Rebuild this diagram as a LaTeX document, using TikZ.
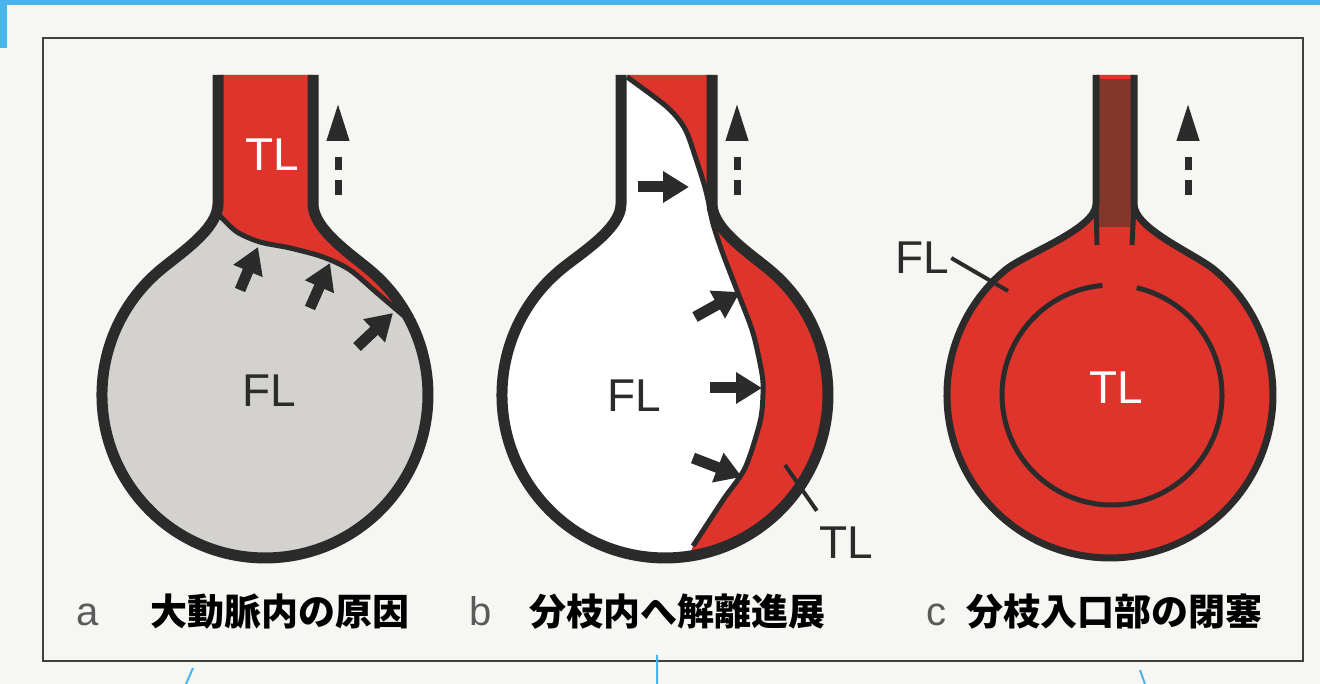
\documentclass[tikz,border=0pt]{standalone}
\usepackage{fontspec}
\setmainfont{Liberation Sans}
\newfontfamily\jpfont{Noto Sans CJK JP}
\usetikzlibrary{arrows.meta}
\definecolor{wall}{HTML}{2B2B2B}
\definecolor{blood}{HTML}{DE342C}
\definecolor{clot}{HTML}{82372A}
\definecolor{flgray}{HTML}{D4D2CF}
\definecolor{paper}{HTML}{F6F6F3}
\definecolor{letter}{HTML}{5A5A5A}
\definecolor{tab}{HTML}{4AB4EC}
% branch on top of the aorta: circle centre x, left and right stem wall x
\def\flask#1#2#3{(#2,609) -- (#2,480) .. controls (#2,455) and (#1-85.6,430) .. (#1-104.8,413.9) arc[start angle=130,end angle=410,radius=163] .. controls (#1+85.6,430) and (#3,455) .. (#3,480) -- (#3,609)}
\def\flow#1{\draw[flow] (#1,489) -- (#1,581);}

\begin{document}
\begin{tikzpicture}[x=0.5pt,y=0.5pt,
  lumen/.style={font=\fontsize{23}{23}\selectfont,inner sep=1pt},
  push/.style={line width=5.5pt,draw=wall,-{Triangle[width=15pt,length=13pt]}},
  flow/.style={line width=3.5pt,draw=wall,dash pattern=on 7.5pt off 5pt on 6.5pt off 30pt,-{Triangle[width=10.5pt,length=19pt]}},
  vessel/.style={line width=5.5pt,draw=wall,line join=round},
  flap/.style={line width=2.5pt,draw=wall},
  leader/.style={line width=2pt,draw=wall},
  letter/.style={font=\fontsize{20}{20}\selectfont,text=letter,anchor=base,inner sep=0pt},
  caption/.style={font=\fontsize{18.5}{20}\selectfont\jpfont\bfseries,anchor=base west,inner sep=0pt}]
\useasboundingbox (0,0) rectangle (1320,684);
\fill[paper] (0,0) rectangle (1320,684);

% a
\fill[flgray] \flask{265}{218}{313} -- cycle;
\begin{scope}
  \clip \flask{265}{218}{313} -- cycle;
  \fill[blood] plot[smooth] coordinates {(214,474) (223,464) (237,452) (260,442) (290,436) (323,427) (350,414) (377,391) (403,369) (414,358)} -- (460,358) -- (460,620) -- (214,620) -- cycle;
\end{scope}
\draw[flap] plot[smooth] coordinates {(220,468) (237,452) (260,442) (290,436) (323,427) (350,414) (377,391) (404,368)};
\draw[vessel] \flask{265}{218}{313};
\draw[push] (240,394) -- (258,437);
\draw[push] (310,376) -- (330,421);
\draw[push] (357,337) -- (393,371);
\flow{338}
\node[lumen,text=white] (tl-a) at (272,529) {TL};
\node[lumen,text=wall] (fl-a) at (269,293) {FL};

% b
\fill[white] \flask{665}{621}{712} -- cycle;
\begin{scope}
  \clip \flask{665}{621}{712} -- cycle;
  \fill[blood] plot[smooth] coordinates {(627,607) (667,577) (685,555) (696,525) (704,500) (709,480) (713,460) (723,430) (738,391) (753,351) (762,310) (763,290) (760,262) (745,216) (723,184) (693,138)} -- (680,100) -- (900,100) -- (900,620) -- (627,620) -- cycle;
\end{scope}
\draw[flap] plot[smooth] coordinates {(627,607) (667,577) (685,555) (696,525) (704,500) (709,480) (713,460) (723,430) (738,391) (753,351) (762,310) (763,290) (760,262) (745,216) (723,184) (693,138)};
\draw[vessel] \flask{665}{621}{712};
\draw[push] (638,497) -- (689,497);
\draw[push] (695,367) -- (740,392);
\draw[push] (710,296) -- (762,296);
\draw[push] (693,226) -- (742,207);
\flow{737}
\node[lumen,text=wall] (fl-b) at (634,288) {FL};
\node[lumen,text=wall] (tl-b) at (846,141) {TL};
\coordinate (tl-b-wall) at (785,219);
\draw[leader] (tl-b-wall) -- ([yshift=7pt]tl-b.north west);

% c
\fill[blood] \flask{1110}{1096}{1134} -- cycle;
\fill[clot] (1096,457) rectangle (1134,609);
\fill[blood] (1096,605) rectangle (1134,609);
\draw[vessel,line width=3.5pt] \flask{1110}{1096}{1134};
\draw[vessel,line width=2.5pt] (1096,480) -- (1097,439) (1134,480) -- (1132,439);
\draw[vessel,line width=2.5pt] (1112,289) ++(95:110) arc[start angle=95,end angle=437,radius=110];
\flow{1188}
\node[lumen,text=white] (tl-c) at (1116,296) {TL};
\node[lumen,text=wall] (fl-c) at (922,426) {FL};
\coordinate (fl-c-wall) at (1008,393);
\draw[leader] (fl-c.east) -- (fl-c-wall);

\node[letter] (let-a) at (88,58) {a};
\node[caption] (cap-a) at (150,58) {大動脈内の原因};
\node[letter] (let-b) at (481,58) {b};
\node[caption] (cap-b) at (529,58) {分枝内へ解離進展};
\node[letter] (let-c) at (936,58) {c};
\node[caption] (cap-c) at (966,58) {分枝入口部の閉塞};

\draw[wall!90,line width=1.3pt] (43,646) rectangle (1303,23);
\fill[tab] (0,679) rectangle (1320,684);
\fill[tab] (0,636) rectangle (7,684);
\draw[tab,line width=1pt] (193,16) -- (186,0) (657,29) -- (657,0) (1140,14) -- (1145,0);
\end{tikzpicture}
\end{document}
